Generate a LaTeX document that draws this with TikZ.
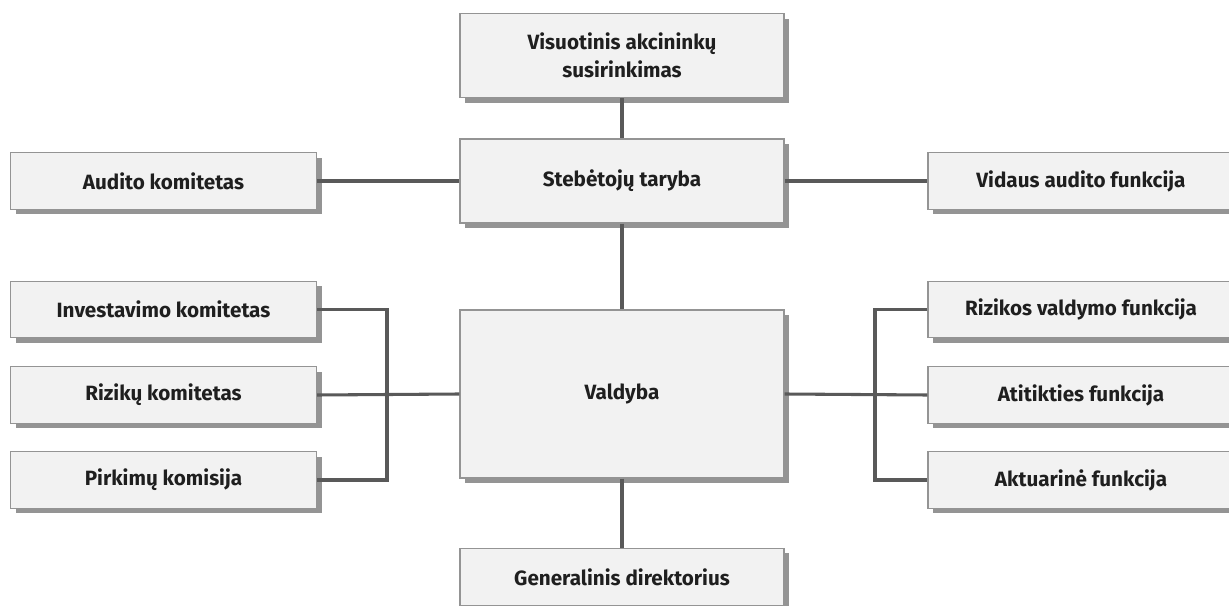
\documentclass[tikz,border=0pt]{standalone}
\usepackage{fontspec}
\setmainfont{Fira Sans}
\usetikzlibrary{shadows}
\begin{document}
\begin{tikzpicture}[x=0.75pt,y=-0.75pt,
	boxnode/.style={rectangle,draw=black!42,fill=black!5,line width=0.9pt,inner sep=2pt,align=center,
		font=\fontsize{15.5}{21}\selectfont\bfseries,text=black!88,
		drop shadow={shadow xshift=3.8pt,shadow yshift=-3.8pt,fill=black!42,opacity=1}},
	widebox/.style={boxnode,minimum width=243pt,minimum height=63pt},
	sidebox/.style={boxnode,minimum width=229.5pt,minimum height=42.5pt},
	linkline/.style={draw=black!65,line width=2.3pt}
]
\useasboundingbox (0,0) rectangle (1229,606);
\clip (0,0) rectangle (1229,606);

% Mitte
\node[widebox] (1) at (622,55.5) {Visuotinis akcininkų\\susirinkimas};
\node[widebox] (2) at (622,181) {Stebėtojų taryba};
\node[boxnode,minimum width=243pt,minimum height=126pt] (3) at (622,394) {Valdyba};
\node[boxnode,minimum width=243pt,minimum height=43pt] (4) at (622,577) {Generalinis direktorius};

% Links
\node[sidebox] (5) at (163.5,181) {Audito komitetas};
\node[sidebox] (6) at (163.5,309.5) {Investavimo komitetas};
\node[sidebox] (7) at (163.5,395) {Rizikų komitetas};
\node[sidebox] (8) at (163.5,480) {Pirkimų komisija};

% Rechts
\node[sidebox] (9) at (1081,181) {Vidaus audito funkcija};
\node[sidebox] (10) at (1081,309.5) {Rizikos valdymo funkcija};
\node[sidebox] (11) at (1081,395) {Atitikties funkcija};
\node[sidebox] (12) at (1081,480) {Aktuarinė funkcija};

% Verbindungen
\coordinate (L) at (387,395);
\coordinate (R) at (875,395);
\draw[linkline] (1.south) -- (2.north);
\draw[linkline] (2.south) -- (3.north);
\draw[linkline] (3.south) -- (4.north);
\draw[linkline] (5.east) -- (2.west);
\draw[linkline] (2.east) -- (9.west);
\draw[linkline] (6.east) -| (L) |- (8.east);
\draw[linkline] (7.east) -- (3.west);
\draw[linkline] (10.west) -| (R) |- (12.west);
\draw[linkline] (3.east) -- (11.west);

\end{tikzpicture}
\end{document}
